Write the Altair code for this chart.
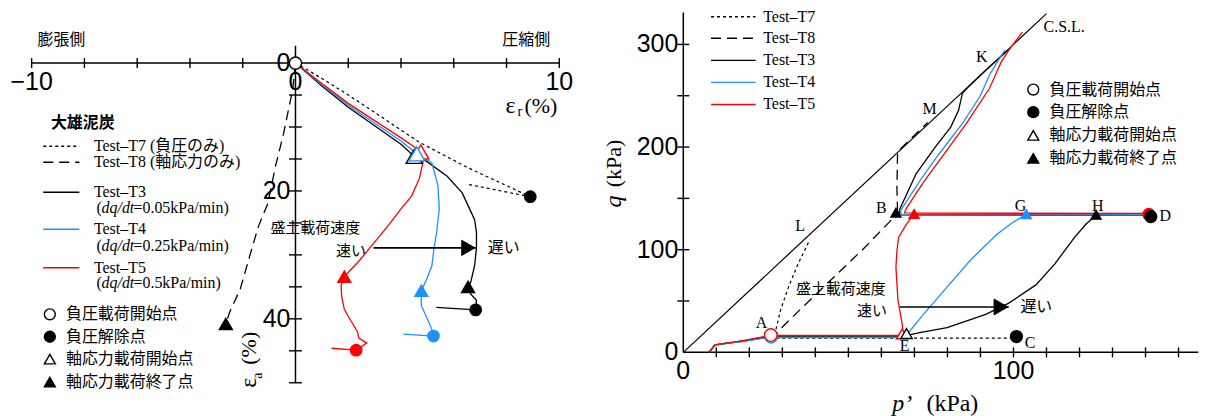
import altair as alt
import pandas as pd

SERIF = "Liberation Serif, Noto Sans CJK JP"
SANS = "Liberation Sans"
CJK = "Noto Sans CJK JP"
BLUE = "#1e90ff"
RED = "#ff0000"
BLACK = "black"

# ================= LEFT PANEL : eps_r (x) vs eps_a (y, downward) =================
# Test-T3 (black)
t3_er = [0, 1, 2, 3, 4, 4.5, 4.88, 5.75, 6.32, 6.6, 6.79, 6.86, 6.86, 6.79, 6.64, 6.54, 6.64, 6.86, 6.83]
t3_ea = [0, 3.6, 6.9, 9.8, 12.7, 14.6, 15.1, 17.7, 20.3, 22.8, 24.5, 26.5, 28.9, 31.7, 34.3, 35.0, 36.1, 37.1, 38.6]
t3_tail_er = [5.34, 6.83]
t3_tail_ea = [38.2, 38.6]
# Test-T4 (blue)
t4_er = [0, 1, 2, 3, 4, 4.6, 4.9, 5.17, 5.4, 5.45, 5.35, 5.25, 5.17, 4.95, 4.77, 4.77, 5.05, 5.2, 5.23]
t4_ea = [0, 3.4, 6.6, 9.4, 12.2, 14.2, 14.9, 15.6, 19.2, 22.8, 26.5, 29.0, 31.7, 34.0, 35.6, 37.9, 40.5, 42.0, 42.7]
t4_tail_er = [4.09, 5.23]
t4_tail_ea = [42.4, 42.7]
# Test-T5 (red)
t5_er = [0, 1, 2, 3, 4, 4.75, 4.85, 4.7, 4.4, 4.0, 3.5, 3.0, 2.4, 1.85, 1.73, 1.75, 1.85, 2.1, 2.35, 2.4, 2.7, 2.3]
t5_ea = [0, 3.2, 6.3, 9.0, 11.7, 13.8, 15.2, 18.0, 20.8, 22.8, 25.5, 28.0, 31.0, 33.4, 34.8, 36.5, 38.5, 40.3, 42.0, 43.0, 43.8, 44.9]
t5_tail_er = [1.37, 2.3]
t5_tail_ea = [44.6, 44.9]
# Test-T7 (dotted)
t7_er = [0, 1, 2, 3, 4.66, 6.5, 8.9]
t7_ea = [0, 2.4, 5.0, 7.7, 12.3, 16.3, 20.9]
t7_tail_er = [6.58, 8.9]
t7_tail_ea = [19.0, 20.9]
# Test-T8 (dashed)
t8_er = [0, -0.1, -0.45, -0.75, -1.05, -1.4, -1.66, -2.09, -2.5, -2.64]
t8_ea = [0, 4, 11, 16, 22, 25.5, 29.1, 35.3, 39.0, 40.8]

# markers (left)
L_open_circ = ([0], [0])
L_open_tri_black = ([4.5], [14.6])
L_open_tri_red = ([4.75], [13.9])
L_open_tri_blue = ([4.6], [14.2])
L_fill_tri_black = ([6.54, -2.64], [35.0, 40.8])
L_fill_tri_blue = ([4.77], [35.6])
L_fill_tri_red = ([1.85], [33.4])
L_fill_circ_black = ([8.9, 6.83], [20.9, 38.6])
L_fill_circ_blue = ([5.23], [42.7])
L_fill_circ_red = ([2.3], [44.9])

# axes (left)
L_xaxis = [-10, 10]
L_yaxis = [-2.7, 50]
L_xticks = [-10, -8, -6, -4, -2, 0, 2, 4, 6, 8, 10]
L_yticks = [5, 10, 15, 20, 25, 30, 35, 40, 45, 50]
L_xlabels = [-10, 0, 10]
L_ylabels = [0, 20, 40]

# ================= RIGHT PANEL : p' (x) vs q (y) =================
csl_p = [0, 110]
csl_q = [0, 330]

r3_p = [7.8, 9.6, 18, 26.5, 27, 65, 67.8, 72, 79.9, 91.6, 98.6, 106.8, 112.6, 118.5, 122, 125, 141.5, 65.5,
        65.6, 70.5, 76.3, 81, 83.4, 84.5, 86.3, 92, 98.6]
r3_q = [0, 7.2, 11, 15.5, 15, 15, 16.5, 19.5, 24, 37, 48, 65.7, 86.5, 112, 125, 133.5, 133.5, 134,
        139.7, 174, 200, 219.5, 236, 252, 258.6, 276, 295]
r4_p = [7.8, 9.6, 18, 26.5, 27, 65, 67.5, 73, 80, 87, 95, 100, 103.9, 141, 66, 65.8, 71.7, 77.5, 84.5, 89.8,
        91.6, 92.7, 95.1, 97.4]
r4_q = [0, 7.2, 10.5, 15, 14.4, 14.4, 16.5, 38, 64, 90, 115, 127, 134.6, 133.8, 134.2, 138, 167.4, 193.5, 222.8,
        249, 262, 270, 283, 294.5]
r5_p = [7.8, 9.6, 18, 26.5, 27, 65, 66.4, 66.4, 65, 64.4, 64.7, 65.2, 67.6, 69.9, 141, 67, 67.5, 72.8, 78.7,
        85.7, 92.7, 94.5, 96.3, 98.6, 102.7]
r5_q = [0, 7.4, 11.5, 16.5, 16.5, 16.5, 19, 25.6, 51, 83, 99, 112, 125, 134.8, 135.3, 135.8, 140, 166, 192,
        222.8, 257, 270, 283, 294.5, 312]
r7_p = [7.8, 9.6, 18, 26.5, 27, 100.9]
r7_q = [0, 7.2, 11, 15, 13.8, 13.8]
r7b_p = [27.5, 27.8, 29.5, 31.9, 34.8, 38.3]
r7b_q = [17, 19, 41.7, 64, 86.5, 109.6]
r8_p = [7.8, 9.6, 18, 26.5, 28.3, 35.4, 44.7, 54.1, 62.3, 64.4]
r8_q = [0, 7.4, 11, 16, 19.2, 41.7, 70.5, 99.4, 126.6, 134]
r8b_p = [64.9, 64.7, 64.9, 66, 74]
r8b_q = [137, 160, 195, 199, 224]

R_open_circ_blue = ([26.6], [15.3])
R_open_circ_red = ([26.5], [16.8])
R_open_tri_red = ([66.3], [18])
R_open_tri_black = ([67.6], [18.3])
R_fill_circ_black = ([100.9, 141.6], [15.4, 132.3])
R_fill_circ_red = ([141], [134.5])
R_fill_tri_black = ([64.4, 125], [136, 134])
R_fill_tri_red = ([69.9], [134.8])
R_fill_tri_blue = ([103.9], [134.6])

R_xaxis = [0, 156]
R_yaxis = [0, 331]
R_xticks = [10, 20, 30, 40, 50, 60, 70, 80, 90, 100, 110, 120, 130, 140, 150]
R_yticks = [50, 100, 150, 200, 250, 300]
R_xlabels = [0, 100]
R_ylabels = [0, 100, 200, 300]

# point labels
R_pt_lab = ["A", "E", "C", "D", "L", "M", "K", "B", "G", "H"]
R_pt_p = [23.7, 67.0, 105.0, 146.0, 35.4, 74.6, 90.4, 60.0, 102.1, 125.5]
R_pt_q = [28.8, 6.4, 9.0, 133.0, 123.4, 237.5, 288.0, 140.4, 142.6, 142.6]

# legends
leg_tests = ["Test\u2013T7", "Test\u2013T8", "Test\u2013T3", "Test\u2013T4", "Test\u2013T5"]
L_leg_names = ["Test\u2013T7 (負圧のみ)", "Test\u2013T8 (軸応力のみ)", "Test\u2013T3", "Test\u2013T4", "Test\u2013T5"]
L_leg_y = [13.0, 15.5, 20.2, 26.0, 32.0]
L_rate_y = [22.6, 28.6, 34.4]
L_rates = ["=0.05kPa/min)", "=0.25kPa/min)", "=0.5kPa/min)"]
R_leg_q = [327, 306, 284.5, 263, 241.5]
sym_names = ["負圧載荷開始点", "負圧解除点", "軸応力載荷開始点", "軸応力載荷終了点"]
L_sym_y = [39.3, 42.8, 46.3, 49.9]
R_sym_q = [256, 234, 211.4, 189]

# ================= scales (pixel calibration) =================
H = 400
L_W, R_W, GAP = 557, 599, 35
L_PX, L_PY = 26.45, 6.41
L_X0 = -(296.2 - 8) / L_PX
L_Y0 = -(62.7 - 8) / L_PY
LX = alt.Scale(domain=[L_X0, L_X0 + L_W / L_PX], nice=False, zero=False)
LY = alt.Scale(domain=[L_Y0, L_Y0 + H / L_PY], nice=False, zero=False, reverse=True)
R_PX, R_PY = 3.31, 1.029
R_X0 = -(685 - 600) / R_PX
R_Y1 = (352.7 - 8) / R_PY
RX = alt.Scale(domain=[R_X0, R_X0 + R_W / R_PX], nice=False, zero=False)
RY = alt.Scale(domain=[R_Y1 - H / R_PY, R_Y1], nice=False, zero=False)
LP = (LX, LY, L_PX, L_PY)
RP = (RX, RY, R_PX, R_PY)


def enc(P, **extra):
    d = dict(x=alt.X("x:Q", scale=P[0], axis=None), y=alt.Y("y:Q", scale=P[1], axis=None))
    d.update(extra)
    return d


def path(P, segs, color, dash=None, width=1.3):
    rows = []
    for s, (xs, ys) in enumerate(segs):
        for i, (a, b) in enumerate(zip(xs, ys)):
            rows.append(dict(x=a, y=b, s=s, o=i))
    kw = dict(color=color, strokeWidth=width)
    if dash:
        kw["strokeDash"] = dash
    return alt.Chart(pd.DataFrame(rows)).mark_line(**kw).encode(**enc(P, detail="s:N", order="o:Q"))


def pts(P, xy, shape, fill, stroke, size=130, sw=1.4):
    df = pd.DataFrame(dict(x=xy[0], y=xy[1]))
    return alt.Chart(df).mark_point(shape=shape, filled=True, fill=fill, stroke=stroke, strokeWidth=sw,
                                    size=size, opacity=1).encode(**enc(P))


def txt(P, xs, ys, labels, size=16, font=SERIF, align="left", baseline="middle", angle=0,
        style="normal", weight="normal", dx=0, dy=0):
    df = pd.DataFrame(dict(x=xs, y=ys, t=labels))
    return alt.Chart(df).mark_text(font=font, fontSize=size, align=align, baseline=baseline, angle=angle,
                                   fontStyle=style, fontWeight=weight, dx=dx, dy=dy,
                                   color="black").encode(**enc(P, text="t:N"))


def segs_rule(P, x, x2, y, y2, width=1.5):
    df = pd.DataFrame(dict(x=x, x2=x2, y=y, y2=y2))
    return alt.Chart(df).mark_rule(color=BLACK, strokeWidth=width).encode(**enc(P, x2="x2:Q", y2="y2:Q"))


def axis_lines(P, xr, yr):
    return [segs_rule(P, [xr[0]], [xr[1]], [0], [0]), segs_rule(P, [0], [0], [yr[0]], [yr[1]])]


def xticks(P, vals, half_px):
    h = half_px / P[3]
    return segs_rule(P, vals, vals, [-h] * len(vals), [h] * len(vals), width=1.4)


def yticks(P, vals, half_px):
    h = half_px / P[2]
    return segs_rule(P, [-h] * len(vals), [h] * len(vals), vals, vals, width=1.4)


# ================= build left =================
L = []
L += axis_lines(LP, L_xaxis, L_yaxis)
L.append(xticks(LP, L_xticks, 5))
L.append(yticks(LP, L_yticks, 6.5))
L.append(txt(LP, L_xlabels, [0] * 3, ["\u221210", "0", "10"], size=25, font=SANS, align="center", dy=19))
L.append(txt(LP, [0] * 3, L_ylabels, [str(v) for v in L_ylabels], size=25, font=SANS, align="right", dx=-5))
L.append(txt(LP, [-9.78], [-3.56], ["膨張側"], size=16, font=CJK))
L.append(txt(LP, [9.65], [-3.56], ["圧縮側"], size=16, font=CJK, align="right"))
L.append(txt(LP, [8.15], [6.75], ["\u03b5"], size=24, font=SERIF, align="center"))
L.append(txt(LP, [8.5], [7.7], ["r"], size=14, font=SERIF, align="center"))
L.append(txt(LP, [9.3], [6.75], ["(%)"], size=22, font=SERIF, align="center"))
L.append(txt(LP, [-1.75], [50.0], ["\u03b5"], size=24, font=SERIF, align="center", angle=270))
L.append(txt(LP, [-1.42], [48.9], ["a"], size=14, font=SERIF, align="center", angle=270))
L.append(txt(LP, [-1.75], [44.6], ["(%)"], size=22, font=SERIF, align="center", angle=270))

L.append(path(LP, [(t7_er, t7_ea), (t7_tail_er, t7_tail_ea)], BLACK, dash=[3, 3], width=1.2))
L.append(path(LP, [(t8_er, t8_ea)], BLACK, dash=[10, 6], width=1.3))
L.append(path(LP, [(t3_er, t3_ea), (t3_tail_er, t3_tail_ea)], BLACK))
L.append(path(LP, [(t4_er, t4_ea), (t4_tail_er, t4_tail_ea)], BLUE))
L.append(path(LP, [(t5_er, t5_ea), (t5_tail_er, t5_tail_ea)], RED))

# speed arrow (left)
L_arrow_x = [2.96, 6.86]
L_arrow_y = [28.9, 28.9]
L.append(path(LP, [(L_arrow_x, L_arrow_y)], BLACK, width=1.6))
L.append(pts(LP, ([6.55], [28.9]), "triangle-right", BLACK, BLACK, size=230, sw=1))
L.append(txt(LP, [0.75], [25.8], ["盛土載荷速度"], size=15, font=CJK, align="center"))
L.append(txt(LP, [2.67], [29.4], ["速い"], size=15, font=CJK, align="right"))
L.append(txt(LP, [7.29], [28.9], ["遅い"], size=16, font=CJK))

L.append(pts(LP, L_open_circ, "circle", "white", BLACK, size=150))
L.append(pts(LP, L_open_tri_black, "triangle-up", "white", BLACK, size=260))
L.append(pts(LP, L_open_tri_red, "triangle-up", "white", RED, size=260))
L.append(pts(LP, L_open_tri_blue, "triangle-up", "white", BLUE, size=260))
L.append(pts(LP, L_fill_tri_black, "triangle-up", BLACK, BLACK, size=170))
L.append(pts(LP, L_fill_tri_blue, "triangle-up", BLUE, BLUE, size=170))
L.append(pts(LP, L_fill_tri_red, "triangle-up", RED, RED, size=170))
L.append(pts(LP, L_fill_circ_black, "circle", BLACK, BLACK, size=130))
L.append(pts(LP, L_fill_circ_blue, "circle", BLUE, BLUE, size=130))
L.append(pts(LP, L_fill_circ_red, "circle", RED, RED, size=130))

# left legend
L.append(txt(LP, [-9.27], [9.33], ["大雄泥炭"], size=16, font=CJK, weight="bold"))
leg_line_x = [-9.56, -8.19]
leg_styles = [(BLACK, [3, 3]), (BLACK, [10, 6]), (BLACK, None), (BLUE, None), (RED, None)]
for (c, d), yy in zip(leg_styles, L_leg_y):
    L.append(path(LP, [(leg_line_x, [yy, yy])], c, dash=d, width=1.4))
L.append(txt(LP, [-7.64] * 5, L_leg_y, L_leg_names, size=16))
L.append(txt(LP, [-7.54] * 3, L_rate_y, ["("] * 3, size=16))
L.append(txt(LP, [-7.54] * 3, L_rate_y, ["dq/dt"] * 3, size=16, style="italic", dx=5))
L.append(txt(LP, [-7.54] * 3, L_rate_y, L_rates, size=16, dx=37))
L.append(pts(LP, ([-9.31], [L_sym_y[0]]), "circle", "white", BLACK, size=120))
L.append(pts(LP, ([-9.31], [L_sym_y[1]]), "circle", BLACK, BLACK, size=120))
L.append(pts(LP, ([-9.31], [L_sym_y[2]]), "triangle-up", "white", BLACK, size=120))
L.append(pts(LP, ([-9.31], [L_sym_y[3]]), "triangle-up", BLACK, BLACK, size=120))
L.append(txt(LP, [-8.7] * 4, L_sym_y, sym_names, size=16, font=CJK))

left = alt.layer(*L).properties(width=L_W, height=H)

# ================= build right =================
R = []
R += axis_lines(RP, R_xaxis, R_yaxis)
R.append(xticks(RP, R_xticks, 5))
R.append(yticks(RP, R_yticks, 6))
R.append(txt(RP, R_xlabels, [0] * 2, [str(v) for v in R_xlabels], size=25, font=SANS, align="center", dy=19))
R.append(txt(RP, [0] * 4, R_ylabels, [str(v) for v in R_ylabels], size=25, font=SANS, align="right", dx=-5))
R.append(txt(RP, [-21.1], [147], ["q"], size=24, style="italic", align="center", angle=270))
R.append(txt(RP, [-21.1], [184], ["(kPa)"], size=22, align="center", angle=270))
R.append(txt(RP, [66.3], [-49.9], ["p\u2019"], size=24, style="italic", align="center"))
R.append(txt(RP, [81.5], [-49.9], ["(kPa)"], size=24, align="center"))

R.append(path(RP, [(csl_p, csl_q)], BLACK, width=1.2))
R.append(txt(RP, [109.1], [317], ["C.S.L."], size=16))
R.append(path(RP, [(r7_p, r7_q), (r7b_p, r7b_q)], BLACK, dash=[3, 3], width=1.2))
R.append(path(RP, [(r8_p, r8_q), (r8b_p, r8b_q)], BLACK, dash=[10, 6], width=1.3))
R.append(path(RP, [(r3_p, r3_q)], BLACK))
R.append(path(RP, [(r4_p, r4_q)], BLUE))
R.append(path(RP, [(r5_p, r5_q)], RED))

R_arrow_p = [65.6, 98.6]
R_arrow_q = [44.2, 44.2]
R.append(path(RP, [(R_arrow_p, R_arrow_q)], BLACK, width=1.6))
R.append(pts(RP, ([96.2], [44.2]), "triangle-right", BLACK, BLACK, size=250, sw=1))
R.append(txt(RP, [47.7], [61.5], ["盛土載荷速度"], size=15, font=CJK, align="center"))
R.append(txt(RP, [61.7], [40.0], ["速い"], size=15, font=CJK, align="right"))
R.append(txt(RP, [102.1], [44.2], ["遅い"], size=16, font=CJK))

R.append(pts(RP, R_open_circ_blue, "circle", "white", BLUE, size=160))
R.append(pts(RP, R_open_circ_red, "circle", "white", RED, size=160))
R.append(pts(RP, R_open_tri_red, "triangle-up", "white", RED, size=130))
R.append(pts(RP, R_open_tri_black, "triangle-up", "white", BLACK, size=130))
R.append(pts(RP, R_fill_circ_red, "circle", RED, RED, size=140))
R.append(pts(RP, R_fill_circ_black, "circle", BLACK, BLACK, size=140))
R.append(pts(RP, R_fill_tri_black, "triangle-up", BLACK, BLACK, size=100))
R.append(pts(RP, R_fill_tri_red, "triangle-up", RED, RED, size=100))
R.append(pts(RP, R_fill_tri_blue, "triangle-up", BLUE, BLUE, size=100))
R.append(txt(RP, R_pt_p, R_pt_q, R_pt_lab, size=16, align="center"))

# right legends
r_leg_line_p = [8.4, 21.9]
for (c, d), qq in zip(leg_styles, R_leg_q):
    R.append(path(RP, [(r_leg_line_p, [qq, qq])], c, dash=d, width=1.4))
R.append(txt(RP, [24.2] * 5, R_leg_q, leg_tests, size=16))
R.append(pts(RP, ([106], [R_sym_q[0]]), "circle", "white", BLACK, size=120))
R.append(pts(RP, ([106], [R_sym_q[1]]), "circle", BLACK, BLACK, size=120))
R.append(pts(RP, ([106], [R_sym_q[2]]), "triangle-up", "white", BLACK, size=120))
R.append(pts(RP, ([106], [R_sym_q[3]]), "triangle-up", BLACK, BLACK, size=120))
R.append(txt(RP, [110.9] * 4, R_sym_q, sym_names, size=16, font=CJK))

right = alt.layer(*R).properties(width=R_W, height=H)

chart = alt.hconcat(left, right, spacing=GAP, bounds="flush").properties(
    padding=0, background="white").configure_view(stroke=None)

chart.save("out.html", embed_options={"renderer": "svg", "actions": False})
